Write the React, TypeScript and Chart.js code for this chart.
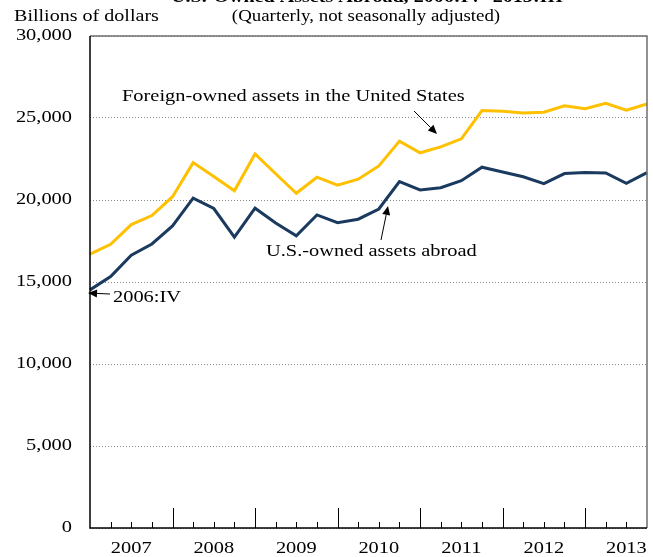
import React, { useEffect, useRef } from "react";
import { Chart, registerables } from "chart.js";

Chart.register(...registerables);

const quarters = [
  "2006:IV",
  "2007:I", "2007:II", "2007:III", "2007:IV",
  "2008:I", "2008:II", "2008:III", "2008:IV",
  "2009:I", "2009:II", "2009:III", "2009:IV",
  "2010:I", "2010:II", "2010:III", "2010:IV",
  "2011:I", "2011:II", "2011:III", "2011:IV",
  "2012:I", "2012:II", "2012:III", "2012:IV",
  "2013:I", "2013:II", "2013:III",
];

const foreignOwned = [
  16700, 17300, 18500, 19050, 20200, 22280, 21430, 20560, 22810, 21600,
  20410, 21390, 20900, 21270, 22080, 23590, 22880, 23240, 23730, 25450,
  25410, 25310, 25350, 25740, 25560, 25900, 25480, 25850,
];

const usOwned = [
  14520, 15330, 16630, 17320, 18420, 20110, 19480, 17730, 19500, 18600,
  17820, 19090, 18620, 18830, 19450, 21120, 20610, 20750, 21180, 22000,
  21710, 21420, 21000, 21610, 21670, 21650, 21020, 21670,
];

const yTicks = [0, 5000, 10000, 15000, 20000, 25000, 30000];
const yearLabels = ["2007", "2008", "2009", "2010", "2011", "2012", "2013"];

const TITLE = "U.S.-Owned Assets Abroad, 2006:IV\u20132013:III";
const SUBTITLE = "(Quarterly, not seasonally adjusted)";
const Y_UNIT = "Billions of dollars";
const LABEL_FOREIGN = "Foreign-owned assets in the United States";
const LABEL_US = "U.S.-owned assets abroad";
const LABEL_START = "2006:IV";

const SERIF = '"Liberation Serif", "Times New Roman", serif';

function txt(
  ctx: CanvasRenderingContext2D,
  s: string,
  x: number,
  y: number,
  align: CanvasTextAlign,
  font: string,
  sx: number = 1.18
) {
  ctx.save();
  ctx.translate(x, y);
  ctx.scale(sx, 1);
  ctx.font = font;
  ctx.fillStyle = "#000";
  ctx.textAlign = align;
  ctx.textBaseline = "middle";
  ctx.fillText(s, 0, 0);
  ctx.restore();
}

function arrow(
  ctx: CanvasRenderingContext2D,
  x1: number,
  y1: number,
  x2: number,
  y2: number
) {
  const ang = Math.atan2(y2 - y1, x2 - x1);
  const hl = 9;
  const hw = 4;
  const bx = x2 - hl * Math.cos(ang);
  const by = y2 - hl * Math.sin(ang);
  ctx.save();
  ctx.strokeStyle = "#000";
  ctx.fillStyle = "#000";
  ctx.lineWidth = 1;
  ctx.beginPath();
  ctx.moveTo(x1, y1);
  ctx.lineTo(bx, by);
  ctx.stroke();
  ctx.beginPath();
  ctx.moveTo(x2, y2);
  ctx.lineTo(bx + hw * Math.sin(ang), by - hw * Math.cos(ang));
  ctx.lineTo(bx - hw * Math.sin(ang), by + hw * Math.cos(ang));
  ctx.closePath();
  ctx.fill();
  ctx.restore();
}

const decorPlugin = {
  id: "decor",
  afterDatasetsDraw(chart: any) {
    const ctx: CanvasRenderingContext2D = chart.ctx;
    const { left, right, top, bottom } = chart.chartArea;
    const xs = chart.scales.x;
    const ys = chart.scales.y;

    // frame
    ctx.save();
    ctx.lineWidth = 1.5;
    ctx.strokeStyle = "#6e6e6e";
    ctx.beginPath();
    ctx.moveTo(left, top);
    ctx.lineTo(right, top);
    ctx.lineTo(right, bottom);
    ctx.stroke();
    ctx.strokeStyle = "#000";
    ctx.beginPath();
    ctx.moveTo(left, top);
    ctx.lineTo(left, bottom);
    ctx.lineTo(right, bottom);
    ctx.stroke();

    // x tick marks (inside)
    ctx.lineWidth = 1;
    for (let i = 1; i < quarters.length - 1; i++) {
      const x = Math.round(xs.getPixelForValue(i)) + 0.5;
      const len = i % 4 === 0 ? 20 : 6;
      ctx.beginPath();
      ctx.moveTo(x, bottom);
      ctx.lineTo(x, bottom - len);
      ctx.stroke();
    }
    ctx.restore();

    // y tick labels
    const tickFont = `17px ${SERIF}`;
    yTicks.forEach((v) => {
      txt(ctx, v.toLocaleString("en-US"), left - 18, ys.getPixelForValue(v), "right", tickFont, 1.2);
    });
    // x year labels
    yearLabels.forEach((yr, k) => {
      txt(ctx, yr, xs.getPixelForValue(2 + 4 * k), bottom + 21, "center", tickFont, 1.2);
    });

    // titles
    txt(ctx, TITLE, 367, -2, "center", `bold 17px ${SERIF}`);
    txt(ctx, SUBTITLE, 366, 17, "center", `16px ${SERIF}`, 1.18);
    txt(ctx, Y_UNIT, 14, 17, "left", `17px ${SERIF}`);

    // annotations
    txt(ctx, LABEL_FOREIGN, 122, 97, "left", `17px ${SERIF}`, 1.2);
    arrow(ctx, 414, 111, 437, 134);
    txt(ctx, LABEL_US, 266, 252, "left", `17px ${SERIF}`, 1.2);
    arrow(ctx, 381, 240, 388, 206);
    txt(ctx, LABEL_START, 113, 298, "left", `17px ${SERIF}`, 1.2);
    arrow(ctx, 110, 294, 88, 293);
  },
};

export default function App() {
  const ref = useRef<HTMLCanvasElement | null>(null);

  useEffect(() => {
    if (!ref.current) return;
    const chart = new Chart(ref.current, {
      type: "line",
      data: {
        labels: quarters,
        datasets: [
          {
            label: LABEL_FOREIGN,
            data: foreignOwned,
            borderColor: "#FFC000",
            backgroundColor: "#FFC000",
            borderWidth: 3,
            pointRadius: 0,
            tension: 0,
          },
          {
            label: LABEL_US,
            data: usOwned,
            borderColor: "#1B3A5F",
            backgroundColor: "#1B3A5F",
            borderWidth: 3,
            pointRadius: 0,
            tension: 0,
          },
        ],
      },
      options: {
        responsive: false,
        animation: false,
        maintainAspectRatio: false,
        layout: { padding: { left: 0, right: 6, top: 36, bottom: 0 } },
        plugins: {
          legend: { display: false },
          tooltip: { enabled: false },
          title: { display: false },
        },
        scales: {
          x: {
            type: "category",
            offset: false,
            grid: { display: false, drawTicks: false },
            border: { display: false },
            ticks: { display: false, autoSkip: false },
            afterFit: (s: any) => {
              s.height = 29;
            },
          },
          y: {
            min: 0,
            max: 30000,
            ticks: { display: false, stepSize: 5000 },
            grid: { color: "#8a8a8a", lineWidth: 1, drawTicks: false },
            border: { display: false, dash: [1, 2] },
            afterFit: (s: any) => {
              s.width = 90;
            },
          },
        },
      },
      plugins: [decorPlugin],
    });
    return () => chart.destroy();
  }, []);

  return (
    <div style={{ position: "fixed", left: 0, top: 0, width: 653, height: 557, background: "#fff" }}>
      <canvas ref={ref} width={653} height={557} style={{ display: "block" }} />
    </div>
  );
}
